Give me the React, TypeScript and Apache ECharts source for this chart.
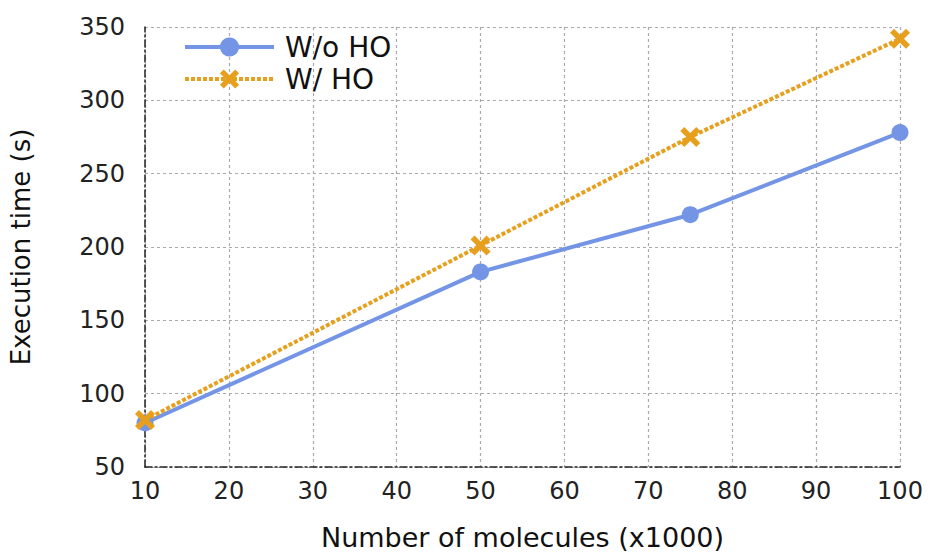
import React, { useEffect, useRef } from "react";
import * as echarts from "echarts";

const xValues = [10, 50, 75, 100];
const withoutHO = [80, 183, 222, 278];
const withHO = [82, 201, 275, 342];
const seriesNames = ["W/o HO", "W/ HO"];
const xTitle = "Number of molecules (x1000)";
const yTitle = "Execution time (s)";

const FONT = "'DejaVu Sans', sans-serif";
const crossPath =
  "path://M0,2 L2,0 L5,3 L8,0 L10,2 L7,5 L10,8 L8,10 L5,7 L2,10 L0,8 L3,5 Z";

export default function App() {
  const ref = useRef<HTMLDivElement>(null);
  useEffect(() => {
    const chart = echarts.init(ref.current!, null, { renderer: "svg" });
    const blue = "#7495E6";
    const orange = "#E6A01E";
    chart.setOption({
      animation: false,
      textStyle: { fontFamily: FONT },
      grid: { left: 145, right: 32, top: 27, bottom: 88, containLabel: false },
      legend: {
        left: 178,
        top: 28,
        orient: "vertical",
        itemWidth: 89,
        itemHeight: 24,
        itemGap: 4,
        textStyle: { fontSize: 28, lineHeight: 26, color: "#111", fontFamily: FONT, padding: [0, 0, 0, 6] },
        data: [
          { name: seriesNames[0], lineStyle: { width: 4, color: blue }, itemStyle: { color: blue } },
          { name: seriesNames[1], lineStyle: { width: 4, color: orange, type: [4, 2] }, itemStyle: { color: orange } },
        ],
      },
      xAxis: {
        type: "value",
        min: 10,
        max: 100,
        interval: 10,
        name: xTitle,
        nameLocation: "middle",
        nameGap: 57,
        nameTextStyle: { fontSize: 27, color: "#111", fontFamily: FONT },
        axisLine: { show: true, lineStyle: { color: "#222", width: 1.5, type: [7, 3, 2, 3] } },
        axisTick: { show: false },
        axisLabel: { fontSize: 24, color: "#222", margin: 12, fontFamily: FONT },
        splitLine: { show: true, lineStyle: { color: "#aaa", width: 1.2, type: [3, 3] } },
      },
      yAxis: {
        type: "value",
        min: 50,
        max: 350,
        interval: 50,
        name: yTitle,
        nameLocation: "middle",
        nameGap: 111,
        nameTextStyle: { fontSize: 26, color: "#111", fontFamily: FONT },
        axisLine: { show: true, lineStyle: { color: "#222", width: 1.5, type: [7, 3, 2, 3] } },
        axisTick: { show: false },
        axisLabel: { fontSize: 24, color: "#222", margin: 20, fontFamily: FONT },
        splitLine: { show: true, lineStyle: { color: "#aaa", width: 1.2, type: [3, 3] } },
      },
      series: [
        {
          name: seriesNames[0],
          type: "line",
          data: xValues.map((x, i) => [x, withoutHO[i]]),
          symbol: "circle",
          symbolSize: 17,
          itemStyle: { color: blue },
          lineStyle: { color: blue, width: 4 },
        },
        {
          name: seriesNames[1],
          type: "line",
          data: xValues.map((x, i) => [x, withHO[i]]),
          symbol: crossPath,
          symbolSize: 20,
          itemStyle: { color: orange },
          lineStyle: { color: orange, width: 4, type: [4, 2] },
        },
      ],
    });
    return () => chart.dispose();
  }, []);
  return <div ref={ref} style={{ width: 932, height: 556, position: "absolute", left: 0, top: 0 }} />;
}
